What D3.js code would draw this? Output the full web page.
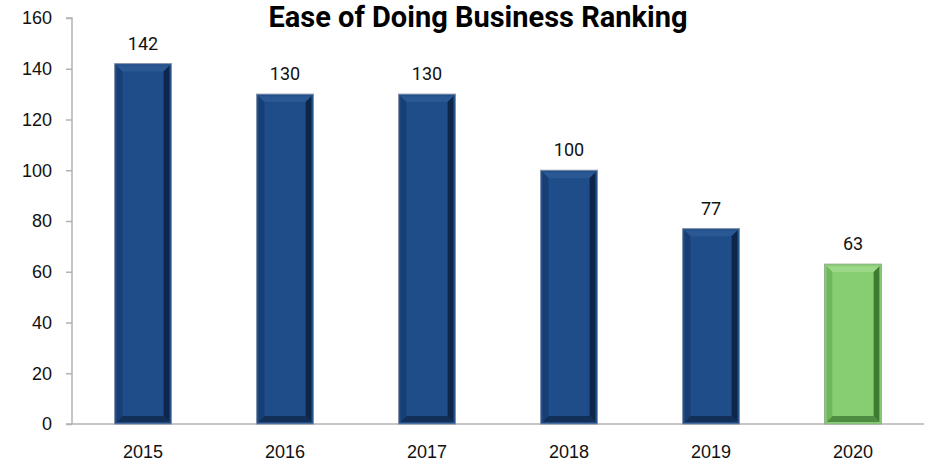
<!DOCTYPE html>
<html>
<head>
<meta charset="utf-8">
<script src="https://cdn.jsdelivr.net/npm/d3@7"></script>
<style>
  html, body { margin: 0; padding: 0; background: #fff; }
  svg { display: block; font-family: Roboto, "Noto Sans", sans-serif; }
</style>
</head>
<body>
<svg id="chart" width="928" height="465"></svg>
<script>
// Ranking by year
const years = ["2015", "2016", "2017", "2018", "2019", "2020"];
const rankings = [142, 130, 130, 100, 77, 63];
const yTicks = [0, 20, 40, 60, 80, 100, 120, 140, 160];
const chartTitle = "Ease of Doing Business Ranking";

const svg = d3.select("#chart");
const margin = { left: 72, right: 4, top: 18, bottom: 41 };
const W = 928, H = 465;

const x = d3.scaleBand()
  .domain(years)
  .range([margin.left, W - margin.right])
  .paddingInner(0.6)
  .paddingOuter(0.3);

const y = d3.scaleLinear()
  .domain([0, 160])
  .range([H - margin.bottom, margin.top]);

// palettes: blue for past years, green for the latest
const blue = { face: "#1f4d89", top: "#2a5893", left: "#173f74", right: "#0e2649", bottom: "#122f58", edge: "#7f8ea6" };
const green = { face: "#87cd72", top: "#9cd887", left: "#6fb65c", right: "#3d7a32", bottom: "#4e8c42", edge: "#8fae88" };

// axes
const yAxis = d3.axisLeft(y).tickValues(yTicks).tickSize(6).tickPadding(14);
const gy = svg.append("g").attr("transform", `translate(${margin.left},0)`).call(yAxis);
gy.select(".domain").attr("stroke", "#b3b3b3").attr("stroke-width", 1.5)
  .attr("d", `M-6,${y(160)}H0V${y(0)}`);
gy.selectAll(".tick line").attr("stroke", "#b3b3b3").attr("stroke-width", 1.5);
gy.selectAll(".tick text").attr("fill", "#111").style("font-size", "18px");

const xAxis = d3.axisBottom(x).tickSize(0).tickPadding(21);
const gx = svg.append("g").attr("transform", `translate(0,${y(0)})`).call(xAxis);
gx.select(".domain").attr("stroke", "#b3b3b3").attr("stroke-width", 1.5)
  .attr("d", `M${margin.left - 6},0H${W - margin.right}`);
gx.selectAll(".tick text").attr("fill", "#111").style("font-size", "18px");

// bevelled bars
const bev = 6;
const bars = svg.append("g").selectAll("g.bar")
  .data(years.map((yr, i) => ({ yr, v: rankings[i], c: i === years.length - 1 ? green : blue })))
  .join("g").attr("class", "bar");

bars.each(function (d) {
  const g = d3.select(this);
  const x0 = x(d.yr), x1 = x0 + x.bandwidth();
  const y0 = y(d.v), y1 = y(0);
  const ix0 = x0 + 2, ix1 = x1 - 2, iy0 = y0 + 2, iy1 = y1 - 2;
  g.append("rect").attr("x", x0).attr("y", y0).attr("width", x1 - x0).attr("height", y1 - y0)
    .attr("fill", d.c.face).attr("stroke", d.c.edge).attr("stroke-width", 1);
  const poly = (pts, fill) => g.append("polygon").attr("points", pts.map(p => p.join(",")).join(" ")).attr("fill", fill);
  poly([[ix0, iy0], [ix1, iy0], [ix1 - bev, iy0 + bev], [ix0 + bev, iy0 + bev]], d.c.top);
  poly([[ix0, iy0], [ix0 + bev, iy0 + bev], [ix0 + bev, iy1 - bev], [ix0, iy1]], d.c.left);
  poly([[ix1, iy0], [ix1, iy1], [ix1 - bev, iy1 - bev], [ix1 - bev, iy0 + bev]], d.c.right);
  poly([[ix0, iy1], [ix0 + bev, iy1 - bev], [ix1 - bev, iy1 - bev], [ix1, iy1]], d.c.bottom);
  g.append("rect").attr("x", ix0 + bev).attr("y", iy0 + bev)
    .attr("width", Math.max(0, ix1 - ix0 - 2 * bev)).attr("height", Math.max(0, iy1 - iy0 - 2 * bev))
    .attr("fill", d.c.face);
});

// value labels
svg.append("g").selectAll("text")
  .data(years.map((yr, i) => ({ yr, v: rankings[i] })))
  .join("text")
  .attr("x", d => x(d.yr) + x.bandwidth() / 2)
  .attr("y", d => y(d.v) - 14)
  .attr("text-anchor", "middle")
  .attr("fill", "#111")
  .style("font-size", "18px")
  .text(d => d.v);

// title
svg.append("text")
  .attr("x", 478).attr("y", 27)
  .attr("text-anchor", "middle")
  .attr("fill", "#000")
  .style("font-size", "29px").style("font-weight", "bold")
  .text(chartTitle);
</script>
</body>
</html>
